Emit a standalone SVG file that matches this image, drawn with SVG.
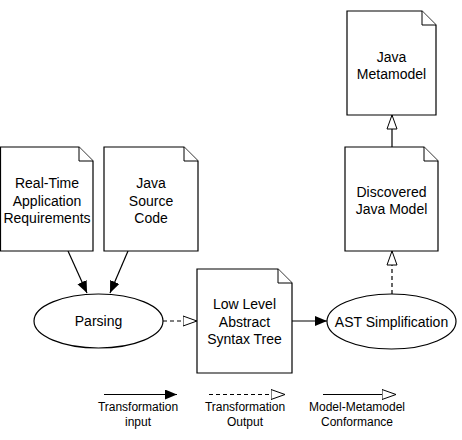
<svg xmlns="http://www.w3.org/2000/svg" width="462" height="440" viewBox="0 0 462 440">
<style>
.doc{fill:#fff;stroke:#000;stroke-width:1.2}
.fold{fill:#fff;stroke:#000;stroke-width:1}
.ell{fill:#fff;stroke:#000;stroke-width:1.2}
text{font-family:"Liberation Sans",Arial,sans-serif;font-size:14px;fill:#000;text-anchor:middle}
.lg{font-size:12px}
.c{fill:none;stroke:#000;stroke-width:1.2}
.d{stroke-dasharray:4,3}
</style>
<defs>
<marker id="fill" markerUnits="userSpaceOnUse" markerWidth="13" markerHeight="11" refX="12" refY="5" orient="auto" viewBox="0 0 13 11">
<path d="M0,0 L12,5 L0,10 Z" fill="#000"/>
</marker>
<marker id="hollow" markerUnits="userSpaceOnUse" markerWidth="16" markerHeight="12" refX="14.5" refY="6" orient="auto" viewBox="0 0 16 12">
<path d="M0.5,1 L14.5,6 L0.5,11 Z" fill="#fff" stroke="#000" stroke-width="1"/>
</marker>
</defs>
<g id="connectors">
<line class="c" x1="68" y1="251" x2="87" y2="293" marker-end="url(#fill)"/>
<line class="c" x1="128" y1="251" x2="110" y2="293" marker-end="url(#fill)"/>
<line class="c d" x1="163" y1="321" x2="197" y2="321" marker-end="url(#hollow)"/>
<line class="c" x1="292" y1="321" x2="327" y2="321" marker-end="url(#fill)"/>
<line class="c d" x1="392" y1="294" x2="392" y2="251" marker-end="url(#hollow)"/>
<line class="c" x1="392" y1="147" x2="392" y2="115" marker-end="url(#hollow)"/>
</g>
<g id="rt-req">
<path class="doc" d="M0.5,147 H79 L93,161 V251 H0.5 Z"/>
<path class="fold" d="M79,147 V161 H93"/>
<text x="47" y="188">Real-Time</text>
<text x="47" y="205.5">Application</text>
<text x="47" y="223">Requirements</text>
</g>
<g id="java-src">
<path class="doc" d="M104,147 H184 L198,161 V251 H104 Z"/>
<path class="fold" d="M184,147 V161 H198"/>
<text x="151" y="188">Java</text>
<text x="151" y="205.5">Source</text>
<text x="151" y="223">Code</text>
</g>
<g id="parsing">
<ellipse class="ell" cx="98.5" cy="321" rx="64.5" ry="27"/>
<text x="98.5" y="326">Parsing</text>
</g>
<g id="llast">
<path class="doc" d="M197,269 H278 L292,283 V373 H197 Z"/>
<path class="fold" d="M278,269 V283 H292"/>
<text x="244.5" y="309">Low Level</text>
<text x="244.5" y="327">Abstract</text>
<text x="244.5" y="344">Syntax Tree</text>
</g>
<g id="ast-simp">
<ellipse class="ell" cx="391.5" cy="321.5" rx="64.5" ry="27.5"/>
<text x="391.5" y="326.5">AST Simplification</text>
</g>
<g id="discovered">
<path class="doc" d="M345,147 H424 L438,161 V251 H345 Z"/>
<path class="fold" d="M424,147 V161 H438"/>
<text x="391.5" y="197">Discovered</text>
<text x="391.5" y="214">Java Model</text>
</g>
<g id="metamodel">
<path class="doc" d="M347,11 H422 L436,25 V115 H347 Z"/>
<path class="fold" d="M422,11 V25 H436"/>
<text x="391.5" y="62">Java</text>
<text x="391.5" y="79">Metamodel</text>
</g>
<g id="legend">
<line class="c" x1="104" y1="394.5" x2="177" y2="394.5" marker-end="url(#fill)"/>
<text class="lg" x="138" y="411">Transformation</text>
<text class="lg" x="138" y="426">input</text>
<line class="c d" x1="209" y1="394.5" x2="285" y2="394.5" marker-end="url(#hollow)"/>
<text class="lg" x="245" y="411">Transformation</text>
<text class="lg" x="245" y="426">Output</text>
<line class="c" x1="323" y1="394.5" x2="396" y2="394.5" marker-end="url(#hollow)"/>
<text class="lg" x="357" y="411">Model-Metamodel</text>
<text class="lg" x="357" y="426">Conformance</text>
</g>
</svg>
